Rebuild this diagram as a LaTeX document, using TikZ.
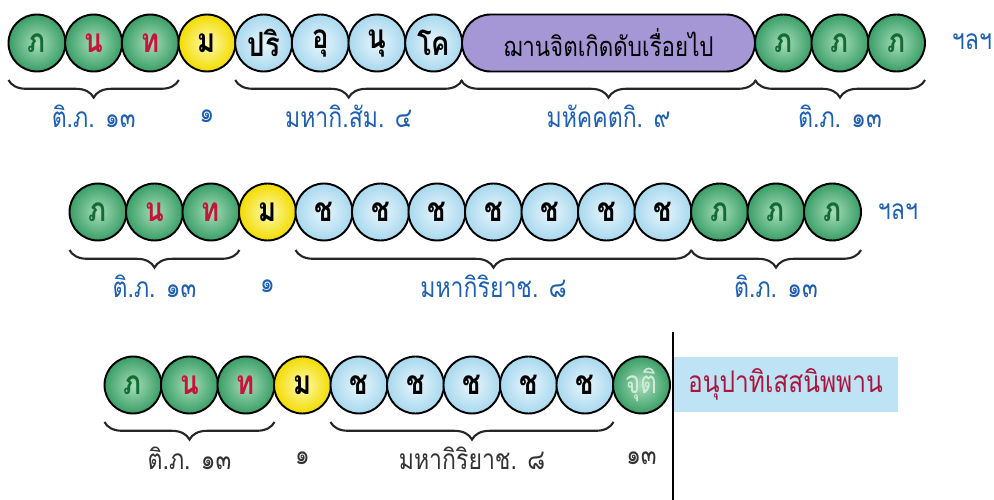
\documentclass[tikz,border=0pt]{standalone}
\usepackage{fontspec}
\usetikzlibrary{decorations.pathreplacing}
\newfontfamily\thaifont[Script=Thai,FakeStretch=0.82]{Loma}

\definecolor{beadgreen}{HTML}{3A9E66}
\definecolor{beadgreenlight}{HTML}{A6DDB9}
\definecolor{beadblue}{HTML}{A8D8EE}
\definecolor{beadbluelight}{HTML}{E8F6FC}
\definecolor{beadyellow}{HTML}{F2DC00}
\definecolor{beadyellowlight}{HTML}{FFF9B0}
\definecolor{jhanapurple}{HTML}{A597D6}
\definecolor{nibbanablue}{HTML}{BEE3F4}
\definecolor{thaired}{HTML}{C4153F}
\definecolor{thaigreen}{HTML}{146C34}
\definecolor{labelblue}{HTML}{1F5FAE}
\definecolor{nibbanared}{HTML}{A8183E}
\definecolor{cutigrey}{HTML}{D2EBD9}

\tikzset{
  bead/.style={circle, draw=black, line width=1.1pt, minimum size=11.4mm, inner sep=0pt, outer sep=0pt,
    font=\thaifont\bfseries\fontsize{19}{22}\selectfont},
  greenbead/.style={bead, inner color=beadgreenlight, outer color=beadgreen},
  bluebead/.style={bead, inner color=beadbluelight, outer color=beadblue},
  yellowbead/.style={bead, inner color=beadyellowlight, outer color=beadyellow},
  jhanabox/.style={rectangle, rounded corners=5.7mm, draw=black, line width=1.1pt, fill=jhanapurple,
    minimum width=58.6mm, minimum height=11.4mm, inner sep=0pt, font=\thaifont\fontsize{15.5}{18}\selectfont},
  underbrace/.style={decorate, decoration={brace, mirror, amplitude=10pt}, line width=1.2pt, black!85},
  bluelabel/.style={text=labelblue, font=\thaifont\fontsize{16}{18}\selectfont},
  greylabel/.style={text=black!80, font=\thaifont\fontsize{16}{18}\selectfont}
}

\begin{document}
\begin{tikzpicture}[x=0.2mm,y=-0.2mm]

  \useasboundingbox (0,0) rectangle (994,500);

  %First row: jhana javana
  \node[greenbead, text=thaigreen] (r1bha) at (37,43) {ภ};
  \node[greenbead, text=thaired] (r1na) at (93.7,43) {น};
  \node[greenbead, text=thaired] (r1tha) at (150.3,43) {ท};
  \node[yellowbead] (r1ma) at (207,43) {ม};
  \node[bluebead] (r1pari) at (263.7,43) {ปริ};
  \node[bluebead] (r1upa) at (320.3,43) {อุ};
  \node[bluebead] (r1anu) at (377,43) {นุ};
  \node[bluebead] (r1go) at (433.7,43) {โค};
  \node[jhanabox] (r1jhana) at (608.5,43) {ฌานจิตเกิดดับเรื่อยไป};
  \node[greenbead, text=thaigreen] (r1bhb) at (783.5,43) {ภ};
  \node[greenbead, text=thaigreen] (r1bhc) at (840,43) {ภ};
  \node[greenbead, text=thaigreen] (r1bhd) at (896.5,43) {ภ};
  \node[bluelabel] (r1etc) at (972,42) {ฯลฯ};

  \draw[underbrace] ([yshift=-7.4mm]r1bha.west) -- ([yshift=-7.4mm]r1tha.east)
    node[bluelabel, midway, yshift=-7.3mm] (r1tibha) {ติ.ภ. ๑๓};
  \node[bluelabel] (r1one) at (r1ma |- r1tibha) {๑};
  \draw[underbrace] ([yshift=-7.4mm]r1pari.west) -- ([yshift=-7.4mm]r1go.east)
    node[bluelabel, midway, yshift=-7.3mm] (r1kiriya) {มหากิ.สัม. ๔};
  \draw[underbrace] ([yshift=-7.4mm]r1jhana.west) -- ([yshift=-7.4mm]r1jhana.east)
    node[bluelabel, midway, yshift=-7.3mm] (r1mahaggata) {มหัคคตกิ. ๙};
  \draw[underbrace] ([yshift=-7.4mm]r1bhb.west) -- ([yshift=-7.4mm]r1bhd.east)
    node[bluelabel, midway, yshift=-7.3mm] (r1tibhb) {ติ.ภ. ๑๓};

  %Second row: kiriya javana
  \node[greenbead, text=thaigreen] (r2bha) at (98,212) {ภ};
  \node[greenbead, text=thaired] (r2na) at (154.5,212) {น};
  \node[greenbead, text=thaired] (r2tha) at (211,212) {ท};
  \node[yellowbead] (r2ma) at (267.5,212) {ม};
  \node[bluebead] (r2ja) at (324,212) {ช};
  \node[bluebead] (r2jb) at (380.5,212) {ช};
  \node[bluebead] (r2jc) at (437,212) {ช};
  \node[bluebead] (r2jd) at (493.5,212) {ช};
  \node[bluebead] (r2je) at (550,212) {ช};
  \node[bluebead] (r2jf) at (606.5,212) {ช};
  \node[bluebead] (r2jg) at (663,212) {ช};
  \node[greenbead, text=thaigreen] (r2bhb) at (719.5,212) {ภ};
  \node[greenbead, text=thaigreen] (r2bhc) at (776,212) {ภ};
  \node[greenbead, text=thaigreen] (r2bhd) at (832.5,212) {ภ};
  \node[bluelabel] (r2etc) at (898,212) {ฯลฯ};

  \draw[underbrace] ([yshift=-7.6mm]r2bha.west) -- ([yshift=-7.6mm]r2tha.east)
    node[bluelabel, midway, yshift=-7.3mm] (r2tibha) {ติ.ภ. ๑๓};
  \node[bluelabel] (r2one) at (r2ma |- r2tibha) {๑};
  \draw[underbrace] ([yshift=-7.6mm]r2ja.west) -- ([yshift=-7.6mm]r2jg.east)
    node[bluelabel, midway, yshift=-7.3mm] (r2kiriya) {มหากิริยาช. ๘};
  \draw[underbrace] ([yshift=-7.6mm]r2bhb.west) -- ([yshift=-7.6mm]r2bhd.east)
    node[bluelabel, midway, yshift=-7.3mm] (r2tibhb) {ติ.ภ. ๑๓};

  %Third row: death and nibbana
  \node[greenbead, text=thaigreen] (r3bha) at (133,385) {ภ};
  \node[greenbead, text=thaired] (r3na) at (189.5,385) {น};
  \node[greenbead, text=thaired] (r3tha) at (246,385) {ท};
  \node[yellowbead] (r3ma) at (302.5,385) {ม};
  \node[bluebead] (r3ja) at (359,385) {ช};
  \node[bluebead] (r3jb) at (415.5,385) {ช};
  \node[bluebead] (r3jc) at (472,385) {ช};
  \node[bluebead] (r3jd) at (528.5,385) {ช};
  \node[bluebead] (r3je) at (585,385) {ช};
  \node[greenbead, text=cutigrey, font=\thaifont\fontsize{18}{21}\selectfont] (r3cuti) at (641.5,385) {จุติ};

  \draw[underbrace] ([yshift=-7.4mm]r3bha.west) -- ([yshift=-7.4mm]r3tha.east)
    node[greylabel, midway, yshift=-7.3mm] (r3tibha) {ติ.ภ. ๑๓};
  \node[greylabel] (r3one) at (r3ma |- r3tibha) {๑};
  \draw[underbrace] ([yshift=-7.4mm]r3ja.west) -- ([yshift=-7.4mm]r3je.east)
    node[greylabel, midway, yshift=-7.3mm] (r3kiriya) {มหากิริยาช. ๘};
  \node[greylabel] (r3thirteen) at (r3cuti |- r3tibha) {๑๓};

  %cut-off line and nibbana
  \node[fill=nibbanablue, minimum width=45mm, minimum height=11mm, inner sep=0pt, text=nibbanared,
    font=\thaifont\fontsize{17}{20}\selectfont] (nibbana) at (785.5,384.5) {อนุปาทิเสสนิพพาน};
  \coordinate (cuttop) at (673,332);
  \coordinate (cutbottom) at (673,500);
  \draw[line width=1.2pt] (cuttop) -- (cutbottom);

\end{tikzpicture}
\end{document}
